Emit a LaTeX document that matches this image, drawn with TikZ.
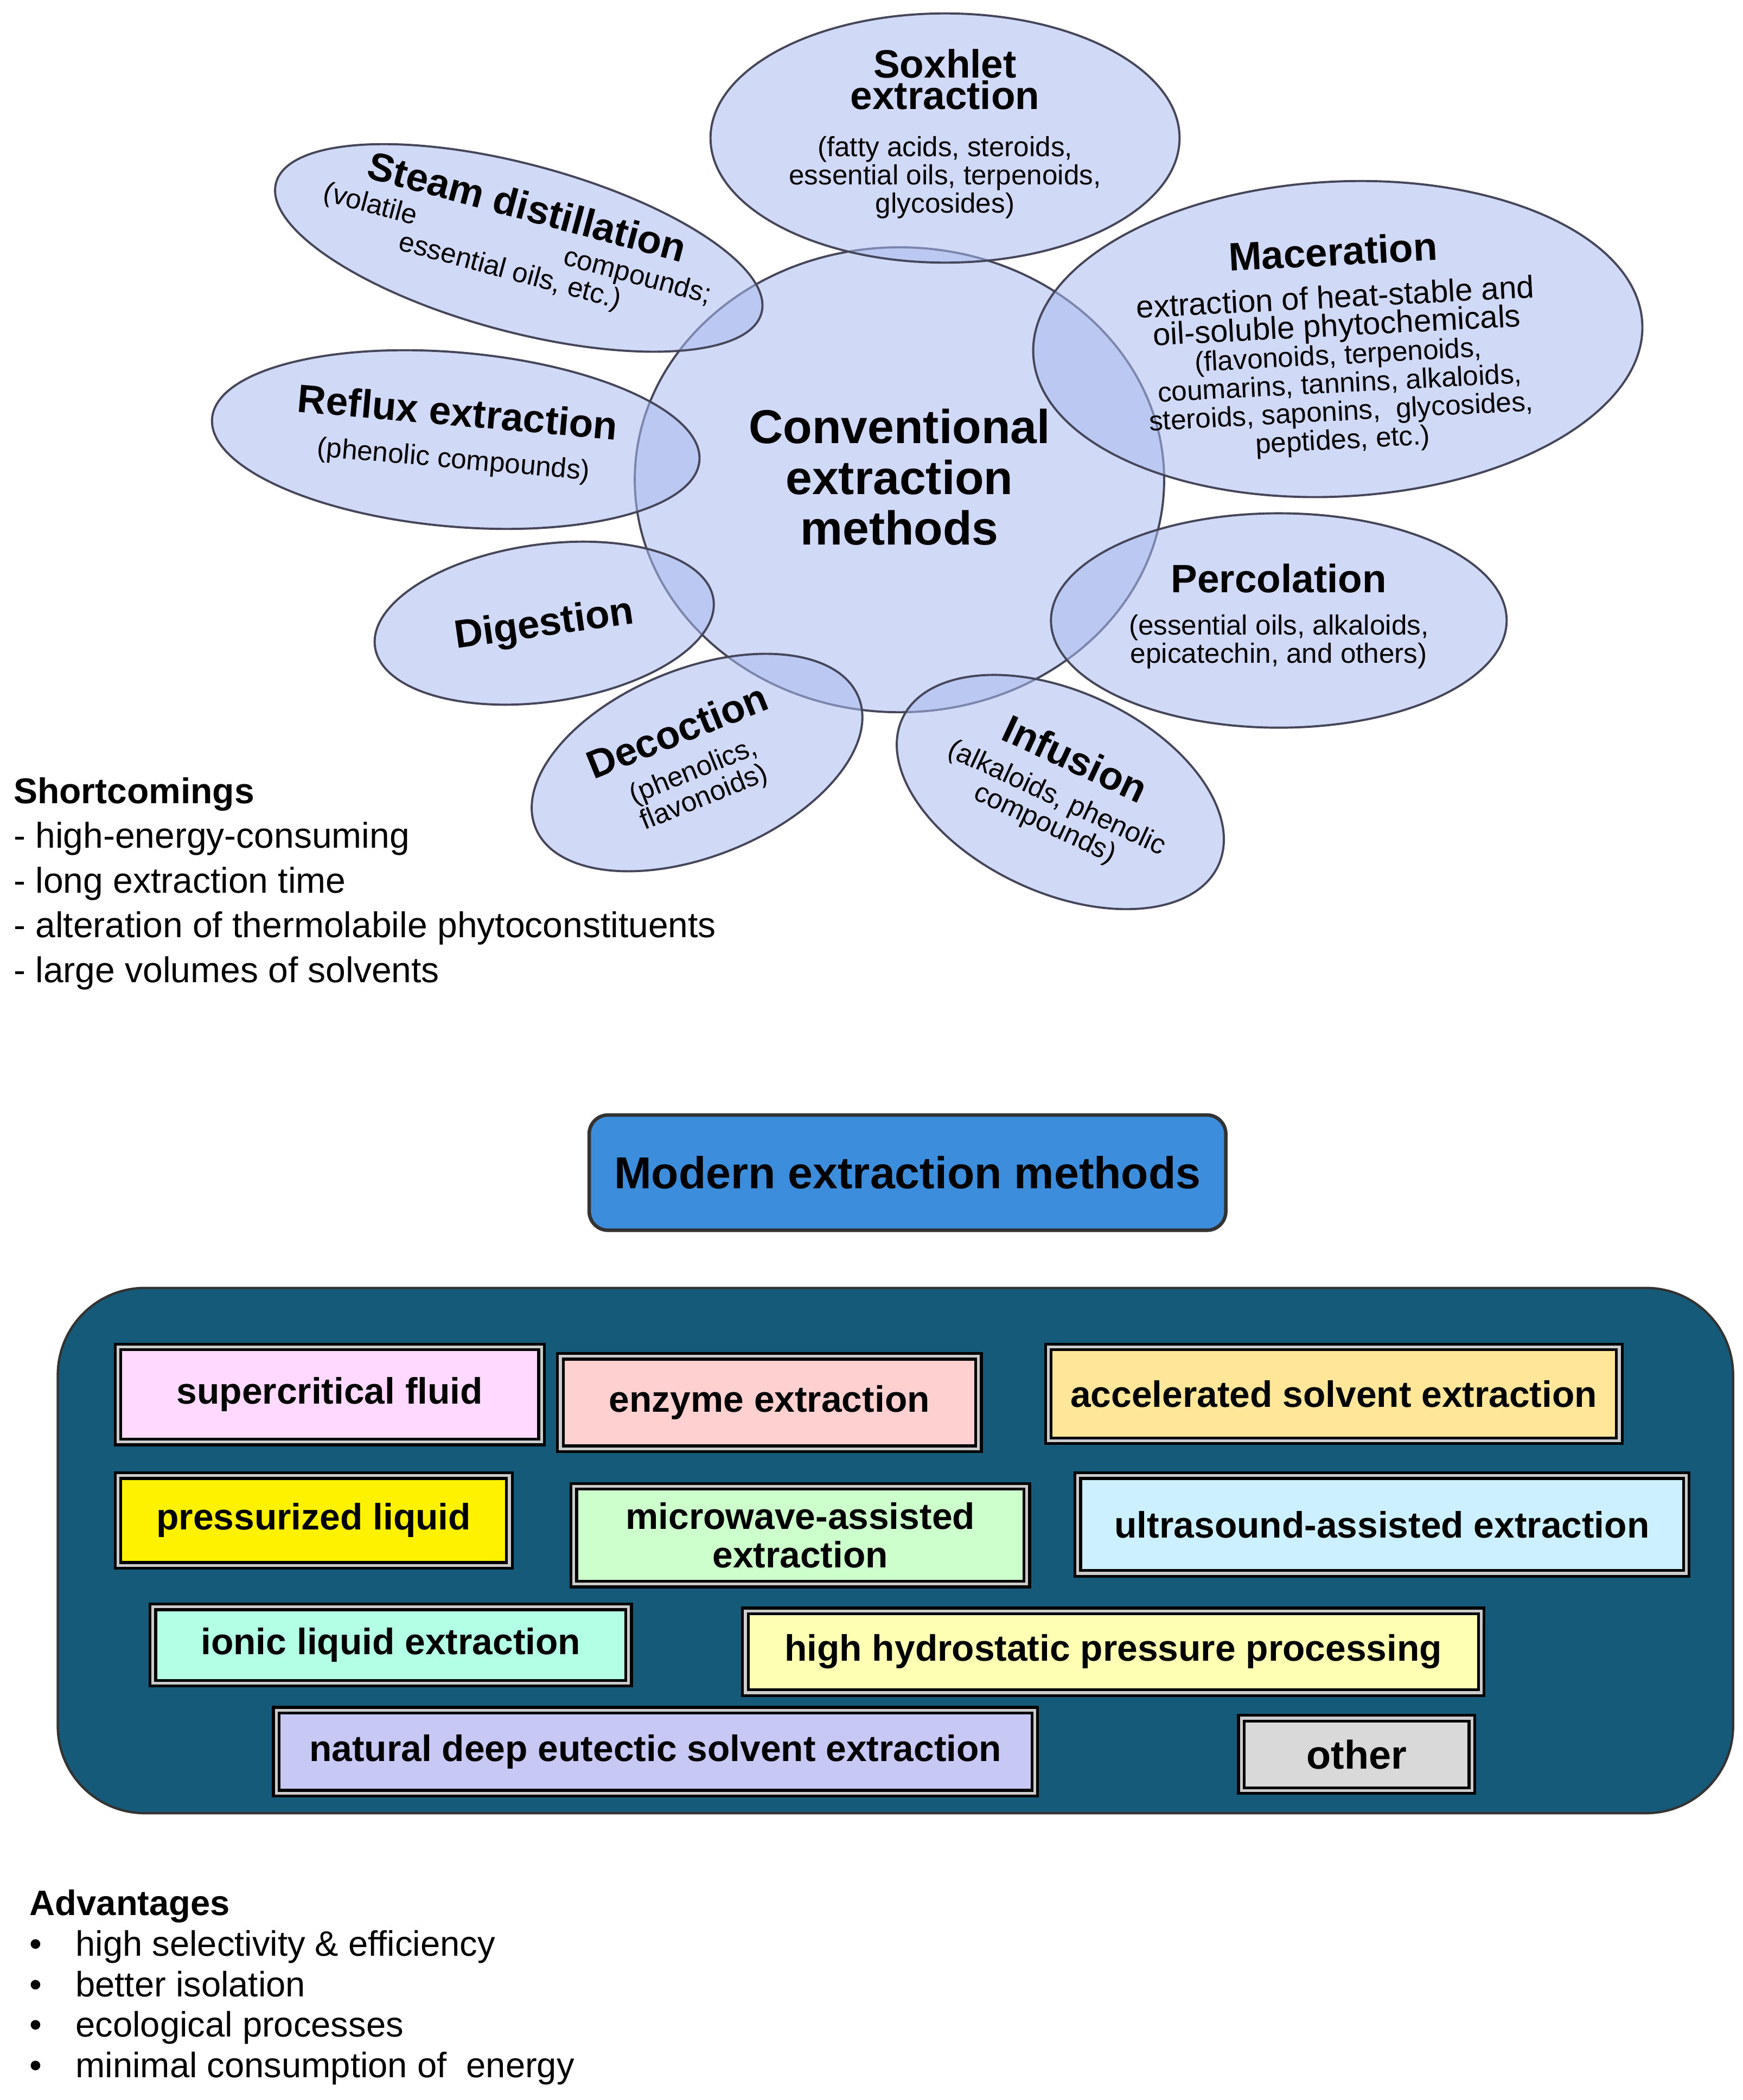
\documentclass[tikz,border=0pt]{standalone}
\usepackage{fontspec}
\setmainfont{Liberation Sans}
\usetikzlibrary{shapes.geometric}
\definecolor{ell}{RGB}{170,186,238}
\definecolor{edge}{RGB}{70,70,90}
\definecolor{bigbox}{RGB}{22,90,122}
\definecolor{modern}{RGB}{60,142,220}
\newcommand\ttlf{\normalfont\bfseries\fontsize{16.8}{18.5}\selectfont}
\newcommand\smf{\normalfont\fontsize{11.8}{12.6}\selectfont}
\tikzset{
 el/.style={ellipse,draw=edge,line width=0.9pt,fill=ell,fill opacity=0.55,text opacity=1,align=center,inner sep=0pt},
 mb/.style={draw=black,line width=1.2pt,double=white!80!black,double distance=1.2pt,font=\bfseries\fontsize{15.6}{16.5}\selectfont,align=center,inner sep=0pt,anchor=north west},
 lst/.style={anchor=north west,align=left,font=\fontsize{15.2}{19}\selectfont}
}
\begin{document}
\begin{tikzpicture}[x=0.02cm,y=-0.02cm]
\useasboundingbox (0,0) rectangle (1300,1567);
\node[el,minimum width=7.9cm,minimum height=6.94cm] (conv) at (671,358) {};
\node[el,minimum width=7.0cm,minimum height=3.72cm] (sox) at (705,103) {};
\node[el,minimum width=7.5cm,minimum height=2.5cm,rotate=-15] (steam) at (387,185) {};
\node[el,minimum width=9.1cm,minimum height=4.7cm,rotate=3] (mac) at (998,253) {};
\node[el,minimum width=7.3cm,minimum height=2.6cm,rotate=-5] (ref) at (340,328) {};
\node[el,minimum width=6.8cm,minimum height=3.2cm] (perc) at (954,463) {};
\node[el,minimum width=5.1cm,minimum height=2.35cm,rotate=8] (dig) at (406,465) {};
\node[el,minimum width=5.2cm,minimum height=2.8cm,rotate=22] (dec) at (520,569) {};
\node[el,minimum width=5.2cm,minimum height=3.0cm,rotate=-25] (inf) at (791,591) {};
% texts
\node[align=center,font=\bfseries\fontsize{20.2}{21.5}\selectfont] (convt) at (671,356) {Conventional\\extraction\\methods};
\node[align=center] (soxt) at (705,100) {\ttlf Soxhlet\\\ttlf extraction\\[8pt]\smf (fatty acids, steroids,\\\smf essential oils, terpenoids,\\\smf glycosides)};
\node[align=center,rotate=-15] (steamt) at (387,178) {\ttlf Steam distillation\\[2pt]\smf (volatile\hspace{5.5em}compounds;\hspace{1em}\\\smf essential oils, etc.)\hspace{5.5em}};
\node[align=center,rotate=3] (mact) at (998,258) {\ttlf Maceration\\[6pt]\normalfont\fontsize{13.4}{14}\selectfont extraction of heat-stable and\\\normalfont\fontsize{13.4}{14}\selectfont oil-soluble phytochemicals\\\smf (flavonoids, terpenoids,\\\smf coumarins, tannins, alkaloids,\\\smf steroids, saponins,\ \ glycosides,\\\smf peptides, etc.)};
\node[align=center,rotate=-5] (reft) at (340,325) {\ttlf Reflux extraction\\[6pt]\smf (phenolic compounds)};
\node[align=center] (perct) at (954,460) {\ttlf Percolation\\[6pt]\smf (essential oils, alkaloids,\\\smf epicatechin, and others)};
\node[rotate=8,font=\bfseries\fontsize{16.8}{18}\selectfont] (digt) at (406,467) {Digestion};
\node[align=center,rotate=22] (dect) at (515,570) {\ttlf Decoction\\[4pt]\smf (phenolics,\\\smf flavonoids)};
\node[align=center,rotate=-25] (inft) at (791,590) {\ttlf Infusion\\[4pt]\smf (alkaloids, phenolic\\\smf compounds)};
% shortcomings
\node[lst] (short) at (4,574) {\textbf{Shortcomings}\\- high-energy-consuming\\- long extraction time\\- alteration of thermolabile phytoconstituents\\- large volumes of solvents};
% modern
\node[draw=black!80,line width=1.5pt,fill=modern,rounded corners=8pt,minimum width=9.5cm,minimum height=1.72cm,font=\bfseries\fontsize{19}{20}\selectfont] (mod) at (677,875) {Modern extraction methods};
\node[draw=black!80,line width=1pt,fill=bigbox,rounded corners=1.3cm,minimum width=25cm,minimum height=7.84cm] (big) at (668,1157) {};
\node[mb,fill={rgb,255:red,255;green,217;blue,255},minimum width=6.32cm,minimum height=1.42cm] (b1) at (87,1004) {supercritical fluid};
\node[mb,fill={rgb,255:red,255;green,208;blue,208},minimum width=6.24cm,minimum height=1.38cm] (b2) at (417,1011) {enzyme extraction};
\node[mb,fill={rgb,255:red,255;green,230;blue,153},minimum width=8.52cm,minimum height=1.4cm] (b3) at (781,1004) {accelerated solvent extraction};
\node[mb,fill=yellow,minimum width=5.84cm,minimum height=1.34cm] (b4) at (87,1100) {pressurized liquid};
\node[mb,fill={rgb,255:red,204;green,255;blue,204},minimum width=6.76cm,minimum height=1.46cm] (b5) at (427,1108) {microwave-assisted\\extraction};
\node[mb,fill={rgb,255:red,204;green,240;blue,255},minimum width=9.08cm,minimum height=1.46cm] (b6) at (803,1100) {ultrasound-assisted extraction};
\node[mb,fill={rgb,255:red,179;green,255;blue,230},minimum width=7.1cm,minimum height=1.14cm] (b7) at (113,1198) {ionic liquid extraction};
\node[mb,fill={rgb,255:red,255;green,255;blue,179},minimum width=10.98cm,minimum height=1.22cm] (b8) at (555,1201) {high hydrostatic pressure processing};
\node[mb,fill={rgb,255:red,200;green,200;blue,245},minimum width=11.32cm,minimum height=1.24cm] (b9) at (205,1275) {natural deep eutectic solvent extraction};
\node[mb,fill={rgb,255:red,217;green,217;blue,217},minimum width=3.44cm,minimum height=1.08cm,font=\bfseries\fontsize{17}{18}\selectfont] (b10) at (925,1281) {other};
% advantages
\node[lst,font=\fontsize{15}{17.2}\selectfont] (adv) at (16,1404) {\textbf{Advantages}\\
\makebox[1.3em][l]{•}high selectivity \& efficiency\\
\makebox[1.3em][l]{•}better isolation\\
\makebox[1.3em][l]{•}ecological processes\\
\makebox[1.3em][l]{•}minimal consumption of\ \ energy};
\end{tikzpicture}
\end{document}
